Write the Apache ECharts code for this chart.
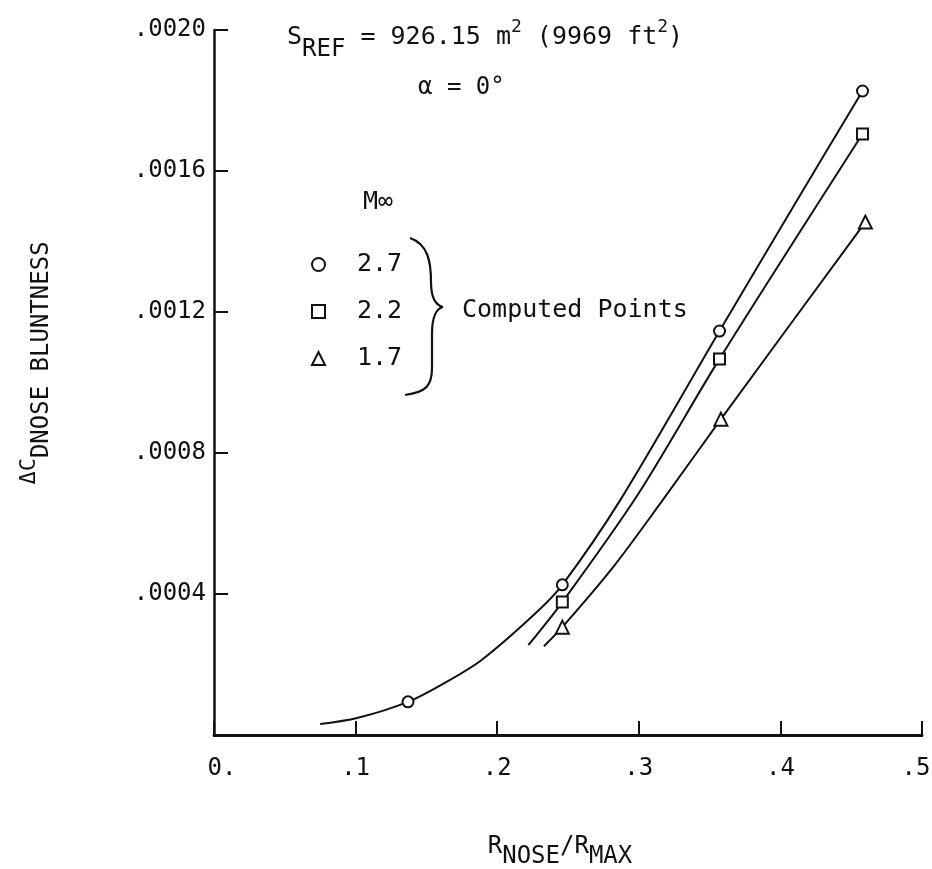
<!DOCTYPE html>
<html>
<head>
<meta charset="utf-8">
<script src="https://cdn.jsdelivr.net/npm/echarts@6/dist/echarts.min.js"></script>
<style>
html,body{margin:0;padding:0;background:#fff;}
#chart{width:932px;height:869px;}
</style>
</head>
<body>
<div id="chart"></div>
<script>
// ---- data ----
var machNumbers = ['2.7', '2.2', '1.7'];
var symbols = ['emptyCircle', 'emptyRect', 'emptyTriangle'];

// computed points [R_nose/R_max, dCD]
var points27 = [[0.137, 0.000094], [0.246, 0.000426], [0.357, 0.001146], [0.458, 0.001827]];
var points22 = [[0.246, 0.000377], [0.357, 0.001067], [0.458, 0.001705]];
var points17 = [[0.246, 0.000306], [0.358, 0.000896], [0.460, 0.001455]];

// faired curves
var curve27 = [[0.075, 0.000031], [0.101, 0.000048], [0.137, 0.000094], [0.163, 0.000148],
               [0.189, 0.000213], [0.228, 0.000349], [0.246, 0.000426], [0.287, 0.000667],
               [0.357, 0.001146], [0.410, 0.001505], [0.458, 0.001827]];
var curve22 = [[0.222, 0.000255], [0.246, 0.000377], [0.299, 0.000680],
               [0.357, 0.001067], [0.458, 0.001705]];
var curve17 = [[0.233, 0.000252], [0.246, 0.000306], [0.282, 0.000477], [0.317, 0.000667],
               [0.358, 0.000896], [0.460, 0.001455]];

var xTicks = { min: 0, max: 0.5, interval: 0.1 };
var yTicks = { min: 0, max: 0.0020, interval: 0.0004 };

var MONO = '"DejaVu Sans Mono", "Liberation Mono", monospace';
var INK = '#111';

var chart = echarts.init(document.getElementById('chart'), null, { renderer: 'canvas' });

var pointSets = [points27, points22, points17];
var curveSets = [curve27, curve22, curve17];
var series = [];
curveSets.forEach(function (c, i) {
  series.push({
    name: 'curve ' + machNumbers[i],
    type: 'line',
    data: c,
    smooth: 0.3,
    showSymbol: false,
    silent: true,
    z: 2,
    lineStyle: { color: INK, width: 2 }
  });
});
pointSets.forEach(function (p, i) {
  series.push({
    name: machNumbers[i],
    type: 'scatter',
    data: p,
    symbol: symbols[i],
    symbolSize: i === 2 ? 13 : 11,
    z: 5,
    itemStyle: { color: INK, borderColor: INK, borderWidth: 1.8, opacity: 1 }
  });
});

function bz(x1, y1, c1x, c1y, c2x, c2y, x2, y2) {
  return {
    type: 'bezierCurve', silent: true,
    shape: { x1: x1, y1: y1, cpx1: c1x, cpy1: c1y, cpx2: c2x, cpy2: c2y, x2: x2, y2: y2 },
    style: { fill: 'none', stroke: INK, lineWidth: 2.2 }
  };
}

var option = {
  backgroundColor: '#fff',
  animation: false,
  grid: { left: 214, right: 10, top: 30, bottom: 134, containLabel: false, outerBoundsMode: 'none' },
  legend: {
    data: machNumbers,
    orient: 'vertical',
    left: 311,
    top: 252,
    padding: 0,
    itemWidth: 13,
    itemHeight: 13,
    itemGap: 22,
    selectedMode: false,
    textStyle: { fontFamily: MONO, fontSize: 25, color: INK, padding: [0, 0, 0, 27] }
  },
  xAxis: {
    type: 'value',
    min: xTicks.min, max: xTicks.max, interval: xTicks.interval,
    axisLine: { show: true, onZero: false, lineStyle: { color: INK, width: 3 } },
    axisTick: { show: true, inside: true, length: 14, lineStyle: { color: INK, width: 2 } },
    splitLine: { show: false },
    axisLabel: {
      margin: 22,
      fontFamily: MONO, fontSize: 24, color: INK,
      formatter: function (v) {
        if (Math.abs(v) < 1e-9) return '{z|0.}';
        var s = '.' + Math.round(v * 10);
        if (Math.abs(v - 0.5) < 1e-9) return '{e|' + s + '}';
        return s;
      },
      rich: {
        z: { fontFamily: MONO, fontSize: 24, color: INK, padding: [0, 0, 0, 16] },
        e: { fontFamily: MONO, fontSize: 24, color: INK, padding: [0, 12, 0, 0] }
      }
    }
  },
  yAxis: {
    type: 'value',
    min: yTicks.min, max: yTicks.max, interval: yTicks.interval,
    axisLine: { show: true, onZero: false, lineStyle: { color: INK, width: 2.5 } },
    axisTick: { show: true, inside: true, length: 14, lineStyle: { color: INK, width: 2 } },
    splitLine: { show: false },
    axisLabel: {
      margin: 8,
      fontFamily: MONO, fontSize: 24, color: INK,
      formatter: function (v) {
        if (Math.abs(v) < 1e-12) return '';
        var n = Math.round(v * 10000);
        return '.' + ('0000' + n).slice(-4);
      }
    }
  },
  graphic: [
    {
      type: 'text', left: 287, top: 18, silent: true,
      style: {
        text: '{a|S}{b|REF}{a| = 926.15 m}{c|2}{a| (9969 ft}{c|2}{a|)}',
        rich: {
          a: { fontFamily: MONO, fontSize: 25, fill: INK, padding: [0, 0, 12, 0], verticalAlign: 'bottom' },
          b: { fontFamily: MONO, fontSize: 24, fill: INK, verticalAlign: 'bottom' },
          c: { fontFamily: MONO, fontSize: 18, fill: INK, padding: [0, 0, 26, 0], verticalAlign: 'bottom' }
        }
      }
    },
    {
      type: 'text', left: 418, top: 76, silent: true,
      style: { text: 'α = 0°', fontFamily: MONO, fontSize: 24, fill: INK }
    },
    {
      type: 'text', left: 363, top: 190, silent: true,
      style: { text: 'M∞', fontFamily: MONO, fontSize: 25, fill: INK }
    },
    {
      type: 'text', left: 462, top: 298, silent: true,
      style: { text: 'Computed Points', fontFamily: MONO, fontSize: 25, fill: INK }
    },
    bz(410, 238, 428, 244, 431, 262, 431, 282),
    bz(431, 282, 431, 298, 435, 305, 443, 307),
    bz(443, 307, 435, 309, 432, 318, 432, 334),
    { type: 'line', silent: true, shape: { x1: 432, y1: 334, x2: 432, y2: 368 }, style: { stroke: INK, lineWidth: 2.2 } },
    bz(432, 368, 432, 386, 426, 392, 405, 395),
    {
      type: 'text', x: 36, y: 363, rotation: Math.PI / 2, silent: true,
      style: {
        text: '{a|ΔC}{b|D}{b|NOSE BLUNTNESS}',
        align: 'center', verticalAlign: 'middle',
        rich: {
          a: { fontFamily: MONO, fontSize: 22, fill: INK, padding: [0, 0, 14, 0], verticalAlign: 'bottom' },
          b: { fontFamily: MONO, fontSize: 24, fill: INK, verticalAlign: 'bottom' }
        }
      }
    },
    {
      type: 'text', x: 560, y: 852, silent: true,
      style: {
        text: '{a|R}{b|NOSE}{a|/R}{b|MAX}',
        align: 'center', verticalAlign: 'middle',
        rich: {
          a: { fontFamily: MONO, fontSize: 24, fill: INK, padding: [0, 0, 10, 0], verticalAlign: 'bottom' },
          b: { fontFamily: MONO, fontSize: 24, fill: INK, verticalAlign: 'bottom' }
        }
      }
    }
  ],
  series: series
};
chart.setOption(option);
</script>
</body>
</html>
